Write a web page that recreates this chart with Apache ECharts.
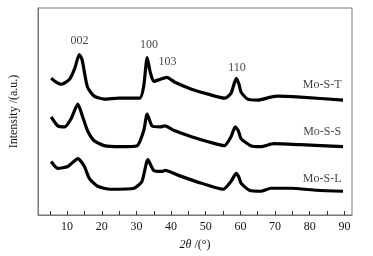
<!DOCTYPE html>
<html>
<head>
<meta charset="utf-8">
<script src="https://cdn.jsdelivr.net/npm/echarts@6/dist/echarts.min.js"></script>
<style>
  html, body { margin: 0; padding: 0; background: #fff; }
  #chart { width: 373px; height: 256px; }
</style>
</head>
<body>
<div id="chart"></div>
<script>
// XRD patterns, [2theta, intensity a.u.]
var moST = [[5.4,138],[6.5,135],[8.3,132],[10.7,137],[12.2,148],[13.5,162],[14.3,157],[15,144],[15.9,129],[17.8,120],[20.7,117],[25,118],[31,118],[32.1,130],[33.1,159],[34,144],[35,135],[36.9,137],[38.8,139],[41.1,134],[45.9,127],[50.7,122],[55.5,118],[57.3,123],[58.8,138],[59.6,132],[60.2,124],[62.1,117],[65,116],[68.8,119],[70.7,120],[77.3,119],[89.6,116]];
var moSS = [[5.4,99],[7.3,90],[9.3,89],[11.1,97],[13.1,112],[14.5,99],[15.9,85],[17.8,75],[20.7,70],[25.4,69],[30.2,70],[32.1,85],[33.1,102],[34.5,90],[36.9,89],[38.2,90],[41.1,85],[45.9,79],[50.7,74],[55.4,70],[57.3,79],[58.5,89],[59.4,85],[60.2,77],[63,70],[65.9,69],[69.6,72],[77.3,71],[89.6,69]];
var moSL = [[5.4,54],[7.3,47],[10.2,49],[13.1,57],[15,49],[16.4,37],[18.8,29],[22.5,26],[29.3,27],[31.6,34],[33.3,56],[35,45],[37.3,44],[38.3,45],[42.1,40],[48.8,32],[55,26],[57.3,34],[58.8,42],[59.6,38],[60.2,32],[62.6,25],[65.9,24],[68.8,27],[74.5,27],[82.1,25],[89.6,24]];

var peakLabels = [[13.6,176,'002'],[33.6,172,'100'],[39,155,'103'],[59,149,'110']];
var sampleLabels = [[83.6,131,'Mo-S-T'],[83.6,84,'Mo-S-S'],[83.6,37,'Mo-S-L']];

var xLabelTicks = [10,20,30,40,50,60,70,80,90];
var xMinorTicks = [5,10,15,20,25,30,35,40,45,50,55,60,65,70,75,80,85,90];

var font = 'Liberation Serif, Times New Roman, serif';
var chart = echarts.init(document.getElementById('chart'));

function curve(name, data) {
    return {
        name: name,
        type: 'line',
        data: data,
        smooth: 0.2,
        symbol: 'none',
        lineStyle: { color: '#000', width: 3.2 },
        silent: true
    };
}

function textLayer(data) {
    return {
        type: 'scatter',
        data: data,
        symbolSize: 0,
        silent: true,
        label: {
            show: true,
            position: 'inside',
            formatter: function (p) { return p.value[2]; },
            color: '#111',
            fontFamily: font,
            fontSize: 12
        }
    };
}

chart.setOption({
    animation: false,
    grid: { left: 35, right: 21, top: 8, bottom: 39, show: true, borderColor: '#777', borderWidth: 1 },
    xAxis: {
        type: 'value',
        min: 1.6,
        max: 92.2,
        name: '{i|2θ} /(°)',
        nameLocation: 'middle',
        nameGap: 24,
        nameTextStyle: { color: '#111', fontFamily: font, fontSize: 12, rich: { i: { fontStyle: 'italic', fontFamily: font, fontSize: 12, color: '#111' } } },
        axisLine: { lineStyle: { color: '#777' } },
        axisTick: { inside: true, length: 4, customValues: xMinorTicks, lineStyle: { color: '#333' } },
        axisLabel: { customValues: xLabelTicks, color: '#111', fontFamily: font, fontSize: 12, margin: 6 },
        splitLine: { show: false }
    },
    yAxis: {
        type: 'value',
        min: 0,
        max: 209,
        name: 'Intensity /(a.u.)',
        nameLocation: 'middle',
        nameGap: 18,
        nameTextStyle: { color: '#111', fontFamily: font, fontSize: 12 },
        axisLine: { show: true, lineStyle: { color: '#777' } },
        axisTick: { show: false },
        axisLabel: { show: false },
        splitLine: { show: false }
    },
    series: [
        curve('Mo-S-T', moST),
        curve('Mo-S-S', moSS),
        curve('Mo-S-L', moSL),
        textLayer(peakLabels),
        textLayer(sampleLabels)
    ]
});
</script>
</body>
</html>
